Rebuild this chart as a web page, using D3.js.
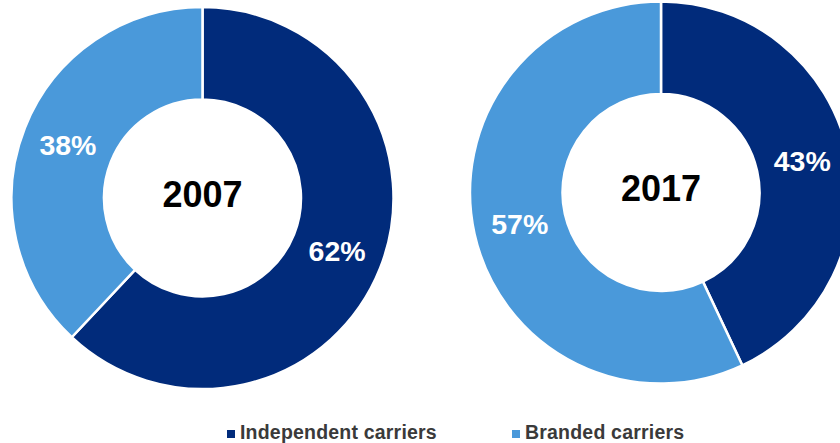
<!DOCTYPE html>
<html>
<head>
<meta charset="utf-8">
<script src="https://cdn.jsdelivr.net/npm/d3@7/dist/d3.min.js"></script>
<style>
  html, body { margin: 0; padding: 0; background: #ffffff; }
  svg { display: block; }
</style>
</head>
<body>
<svg id="chart" width="840" height="443"></svg>
<script>
// Market share of carriers, two snapshot years
const years = ["2007", "2017"];
const seriesNames = ["Independent carriers", "Branded carriers"];
const independentShare = [62, 43];
const brandedShare = [38, 57];
const seriesColors = ["#012b7b", "#4a99da"];

const svg = d3.select("#chart");

const centers = [
  { x: 202.5, y: 198 },
  { x: 661, y: 192.5 }
];
const outerR = 191, innerR = 98.5;

const color = d3.scaleOrdinal().domain(seriesNames).range(seriesColors);

const pie = d3.pie().sort(null).value(d => d.value);
const arc = d3.arc().innerRadius(innerR).outerRadius(outerR);

years.forEach((yr, i) => {
  const data = [
    { name: seriesNames[0], value: independentShare[i] },
    { name: seriesNames[1], value: brandedShare[i] }
  ];
  const g = svg.append("g")
    .attr("transform", `translate(${centers[i].x},${centers[i].y})`);

  const arcs = pie(data);

  g.selectAll("path.slice")
    .data(arcs)
    .join("path")
    .attr("class", "slice")
    .attr("d", arc)
    .attr("fill", d => color(d.data.name))
    .attr("stroke", "#ffffff")
    .attr("stroke-width", 2.5);

  g.selectAll("text.pct")
    .data(arcs)
    .join("text")
    .attr("class", "pct")
    .attr("transform", d => `translate(${arc.centroid(d)})`)
    .attr("text-anchor", "middle")
    .attr("dominant-baseline", "central")
    .attr("font-family", "Liberation Sans, Arial, sans-serif")
    .attr("font-weight", "bold")
    .attr("font-size", 28.5)
    .attr("fill", "#ffffff")
    .text(d => d.data.value + "%");

  g.append("text")
    .attr("x", 0)
    .attr("y", -4)
    .attr("text-anchor", "middle")
    .attr("dominant-baseline", "central")
    .attr("font-family", "Liberation Sans, Arial, sans-serif")
    .attr("font-weight", "bold")
    .attr("font-size", 36)
    .attr("fill", "#000000")
    .text(yr);
});

// Legend
const legendItems = [
  { name: seriesNames[0], x: 227 },
  { name: seriesNames[1], x: 512 }
];
const legend = svg.append("g");
legendItems.forEach(item => {
  legend.append("rect")
    .attr("x", item.x)
    .attr("y", 430)
    .attr("width", 8)
    .attr("height", 8)
    .attr("fill", color(item.name));
  legend.append("text")
    .attr("x", item.x + 13)
    .attr("y", 438.5)
    .attr("font-family", "Liberation Sans, Arial, sans-serif")
    .attr("font-weight", "bold")
    .attr("font-size", 19.5)
    .attr("letter-spacing", 0.2)
    .attr("fill", "#3a3a3a")
    .text(item.name);
});
</script>
</body>
</html>
